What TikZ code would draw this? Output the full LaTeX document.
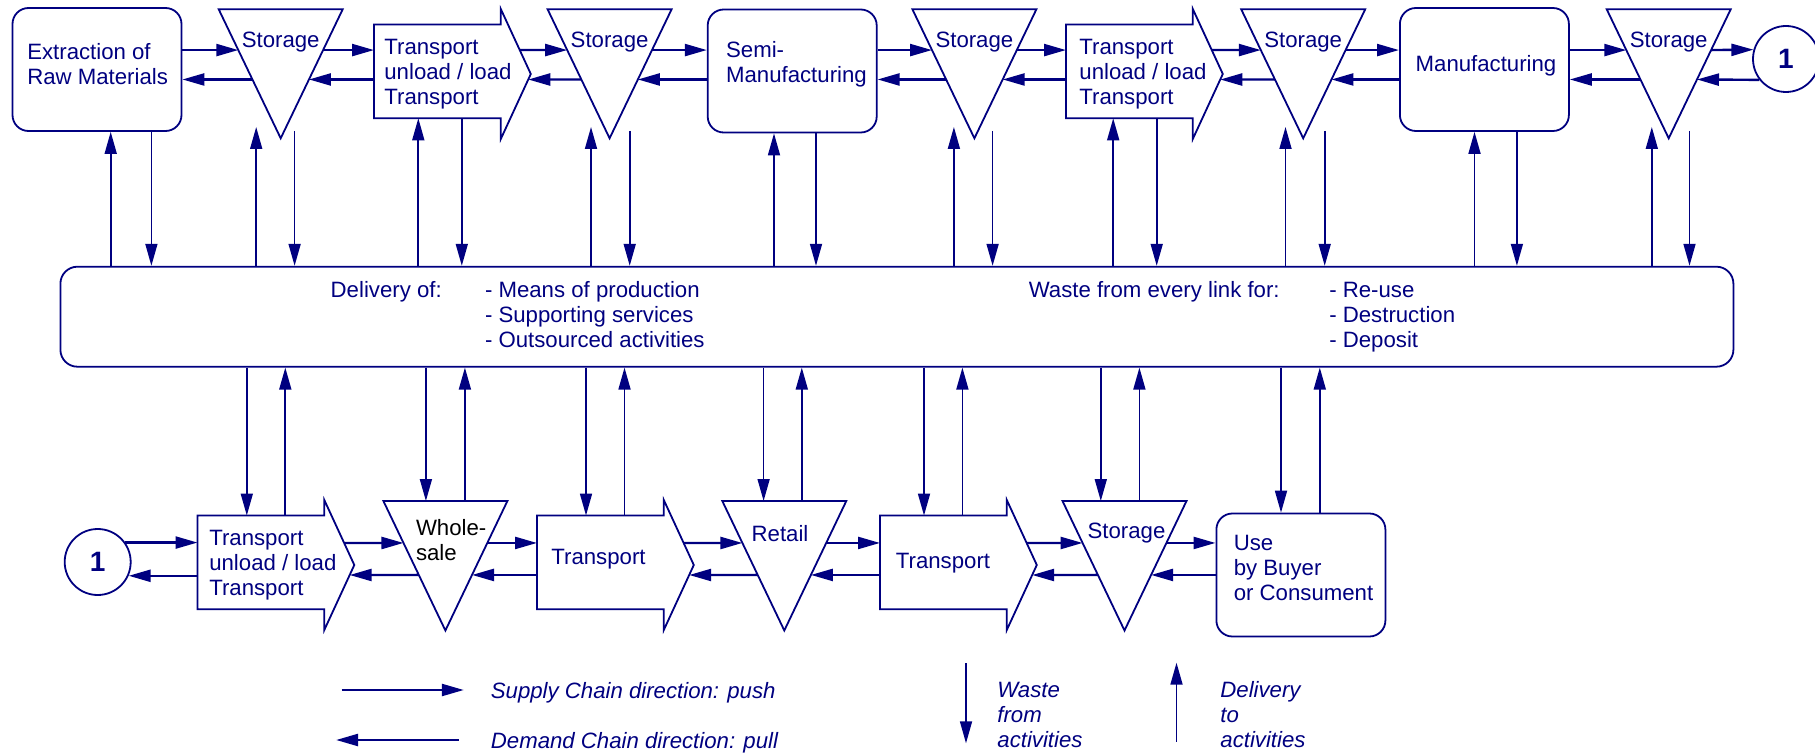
\documentclass[tikz,border=0pt]{standalone}
\usepackage{fontspec}
\setmainfont{Liberation Sans}
\usetikzlibrary{arrows.meta}
\usetikzlibrary{calc}
\definecolor{chain}{RGB}{0,0,128}
\tikzset{
% Define standard arrow tip
>={Triangle[length=11pt, width=6pt]}
}

\begin{document}
\begin{tikzpicture}[x=0.5pt, y=-0.5pt,
  outline/.style={draw=chain, line width=0.9pt},
  box/.style={outline, rectangle, rounded corners=8pt,
    minimum width=84.5pt, minimum height=61.5pt, inner sep=0},
  body/.style={rectangle, anchor=north west,
    minimum width=63pt, minimum height=46.5pt, inner sep=0},
  ring/.style={outline, circle, minimum size=33pt, inner sep=0,
    text=chain, font=\fontsize{14}{16}\selectfont\bfseries},
  txt/.style={text=chain, inner sep=0, align=left, font=\fontsize{11.1}{12.5}\selectfont},
  keytxt/.style={txt, font=\fontsize{11.1}{12.5}\selectfont\itshape},
  flow/.style={->, draw=chain, line width=1.2pt},
  link/.style={->, draw=chain, line width=0.85pt}]

  \useasboundingbox (0,0) rectangle (1815,754);

  % transport arrows
  \foreach \n/\x/\y/\fu/\fd in {T1/374/24.5/0.631/0.085, T2/1066/24.5/0.631/0.085,
      T3/197.5/515.5/0.662/0.154, T4/537/515.5/0.662/0.154, T5/880/515.5/0.662/0.154} {
    \node[body] (\n) at (\x,\y) {};
    \draw[outline] (\n.north west) -- (\n.north east) -- ++(0,-15.5) coordinate (\n-h1)
      -- ++(30,65) coordinate (\n-tip) -- ++(-30,65) coordinate (\n-h2)
      -- (\n.south east) -- (\n.south west) -- cycle;
    \coordinate (\n-up) at ($(\n-h1)!\fu!(\n-tip)$);
    \coordinate (\n-dn) at ($(\n-tip)!\fd!(\n-h2)$);
  }

  % storage triangles, upper chain
  \foreach \n/\x in {st1/218.7, st2/547.6, st3/912.4, st4/1241.2, st5/1606.7} {
    \coordinate (\n-l) at (\x,9.3);
    \coordinate (\n-r) at (\x+124,9.3);
    \coordinate (\n-a) at (\x+62,138.3);
    \draw[outline] (\n-l) -- (\n-r) -- (\n-a) -- cycle;
    \node[txt, anchor=base] (\n-txt) at (\x+62,48) {Storage};
    \coordinate (\n-in) at ($(\n-l)!0.316!(\n-a)$);
    \coordinate (\n-out) at ($(\n-r)!0.316!(\n-a)$);
    \coordinate (\n-rin) at ($(\n-r)!0.544!(\n-a)$);
    \coordinate (\n-rout) at ($(\n-l)!0.544!(\n-a)$);
    \coordinate (\n-dlv) at (\x+62,127);
    \coordinate (\n-wst) at (\x+62,131);
  }

  % triangles, lower chain
  \foreach \n/\x in {whole/383.4, retail/722.3, st6/1062.5} {
    \coordinate (\n-l) at (\x,501);
    \coordinate (\n-r) at (\x+124,501);
    \coordinate (\n-a) at (\x+62,630.5);
    \draw[outline] (\n-l) -- (\n-r) -- (\n-a) -- cycle;
    \coordinate (\n-in) at ($(\n-l)!0.324!(\n-a)$);
    \coordinate (\n-out) at ($(\n-r)!0.324!(\n-a)$);
    \coordinate (\n-rin) at ($(\n-r)!0.571!(\n-a)$);
    \coordinate (\n-rout) at ($(\n-l)!0.571!(\n-a)$);
  }

  \node[box] (extract) at (97,69.5) {};
  \node[box] (semi) at (792.2,71) {};
  \node[box] (manuf) at (1484.4,69.5) {};
  \node[box] (use) at (1300.9,575) {};
  \node[ring] (c1) at (1786,59) {1};
  \node[ring] (c2) at (97.7,562) {1};
  \node[outline, rectangle, rounded corners=8.5pt,
    minimum width=836.5pt, minimum height=50pt, inner sep=0] (hub) at (896.9,316.7) {};

  \node[txt, anchor=west] (extract-txt) at (26.9,64) {Extraction of\\Raw Materials};
  \node[txt, anchor=west] (semi-txt) at (725.7,64.7) {Semi-\\Manufacturing};
  \node[txt, anchor=base] (manuf-txt) at (1486,71.3) {Manufacturing};
  \node[txt, anchor=west] (T1-txt) at (384,74) {Transport\\unload / load\\Transport};
  \node[txt, anchor=west] (T2-txt) at (1079,74) {Transport\\unload / load\\Transport};
  \node[txt, anchor=west] (T3-txt) at (208.9,565.5) {Transport\\unload / load\\Transport};
  \node[txt, anchor=base west] (T4-txt) at (551,564.7) {Transport};
  \node[txt, anchor=base west] (T5-txt) at (895.5,568) {Transport};
  \node[txt, anchor=west, text=black] (whole-txt) at (415.6,540) {Whole-\\sale};
  \node[txt, anchor=base] (retail-txt) at (780,541.3) {Retail};
  \node[txt, anchor=base] (st6-txt) at (1126.5,538) {Storage};
  \node[txt, anchor=west] (use-txt) at (1233.4,568) {Use\\by Buyer\\or Consument};
  \node[txt, anchor=base west] (dlv-head) at (330.3,298) {Delivery of:};
  \node[txt, anchor=west] (dlv-list) at (484.6,315) {- Means of production\\- Supporting services\\- Outsourced activities};
  \node[txt, anchor=base west] (wst-head) at (1028.4,298) {Waste from every link for:};
  \node[txt, anchor=west] (wst-list) at (1328.9,317) {- Re-use\\- Destruction\\- Deposit};

  % upper chain: push and pull
  \draw[flow] (extract.east |- st1-in) -- (st1-in);
  \draw[flow] (st1-rout) -- (extract.east |- st1-rout);
  \draw[flow] (st1-out) -- (T1.west |- st1-out);
  \draw[flow] (T1.west |- st1-rin) -- (st1-rin);
  \draw[flow] (T1-up) -- (st2-in);
  \draw[flow] (st2-rout) -- (T1-dn);
  \draw[flow] (st2-out) -- (semi.west |- st2-out);
  \draw[flow] (semi.west |- st2-rin) -- (st2-rin);
  \draw[flow] (semi.east |- st3-in) -- (st3-in);
  \draw[flow] (st3-rout) -- (semi.east |- st3-rout);
  \draw[flow] (st3-out) -- (T2.west |- st3-out);
  \draw[flow] (T2.west |- st3-rin) -- (st3-rin);
  \draw[flow] (T2-up) -- (st4-in);
  \draw[flow] (st4-rout) -- (T2-dn);
  \draw[flow] (st4-out) -- (manuf.west |- st4-out);
  \draw[flow] (manuf.west |- st4-rin) -- (st4-rin);
  \draw[flow] (manuf.east |- st5-in) -- (st5-in);
  \draw[flow] (st5-rout) -- (manuf.east |- st5-rout);
  \draw[flow] (st5-out) -- (c1.164);
  \draw[flow] (c1.218) -- (st5-rin);

  % lower chain: push and pull
  \draw[flow] (c2.35) -- (T3.west |- c2.35);
  \draw[flow] (T3.west |- c2.-24) -- (c2.-24);
  \draw[flow] (T3-up) -- (whole-in);
  \draw[flow] (whole-rout) -- (T3-dn);
  \draw[flow] (whole-out) -- (T4.west |- whole-out);
  \draw[flow] (T4.west |- whole-rin) -- (whole-rin);
  \draw[flow] (T4-up) -- (retail-in);
  \draw[flow] (retail-rout) -- (T4-dn);
  \draw[flow] (retail-out) -- (T5.west |- retail-out);
  \draw[flow] (T5.west |- retail-rin) -- (retail-rin);
  \draw[flow] (T5-up) -- (st6-in);
  \draw[flow] (st6-rout) -- (T5-dn);
  \draw[flow] (st6-out) -- (use.west |- st6-out);
  \draw[flow] (use.west |- st6-rin) -- (st6-rin);

  % delivery and waste, upper chain
  \foreach \x/\tgt in {110.7/extract.south, 256.2/st1-dlv, 418.3/T1.south, 591/st2-dlv,
      774/semi.south, 953.9/st3-dlv, 1113.2/T2.south, 1285.5/st4-dlv,
      1474.5/manuf.south, 1651.8/st5-dlv}
    \draw[link] (\x,0 |- hub.north) -- (\x,0 |- \tgt);
  \foreach \x/\tgt in {151.4/extract.south, 294.6/st1-wst, 461.8/T1.south, 629.7/st2-wst,
      816/semi.south, 992.6/st3-wst, 1156.7/T2.south, 1324.7/st4-wst,
      1516.9/manuf.south, 1689.5/st5-wst}
    \draw[link] (\x,0 |- \tgt) -- (\x,0 |- hub.north);

  % delivery and waste, lower chain
  \foreach \x/\tgt in {246.8/T3.north, 425.9/whole-l, 586/T4.north, 763.6/retail-l,
      924/T5.north, 1100.8/st6-l, 1281/use.north}
    \draw[link] (\x,0 |- hub.south) -- (\x,0 |- \tgt);
  \foreach \x/\tgt in {285.3/T3.north, 464.9/whole-l, 624.5/T4.north, 801.8/retail-l,
      962.4/T5.north, 1139.4/st6-l, 1319.8/use.north}
    \draw[link] (\x,0 |- \tgt) -- (\x,0 |- hub.south);

  % key
  \coordinate (push-a) at (341.7,690);
  \coordinate (push-b) at (463.8,690);
  \coordinate (pull-a) at (458.9,740);
  \coordinate (pull-b) at (336.1,740);
  \coordinate (wst-a) at (966,663.3);
  \coordinate (wst-b) at (966,743.3);
  \coordinate (dlv-a) at (1176.5,741.7);
  \coordinate (dlv-b) at (1176.5,662.7);
  \draw[flow] (push-a) -- (push-b);
  \draw[flow] (pull-a) -- (pull-b);
  \draw[link] (wst-a) -- (wst-b);
  \draw[link] (dlv-a) -- (dlv-b);
  \node[keytxt, anchor=base west] (push-txt) at (490.5,698) {Supply Chain direction: push};
  \node[keytxt, anchor=base west] (pull-txt) at (490.5,748) {Demand Chain direction: pull};
  \node[keytxt, anchor=west] (wst-txt) at (997,715) {Waste\\from\\activities};
  \node[keytxt, anchor=west] (dlv-txt) at (1220,715) {Delivery\\to\\activities};
\end{tikzpicture}
\end{document}
